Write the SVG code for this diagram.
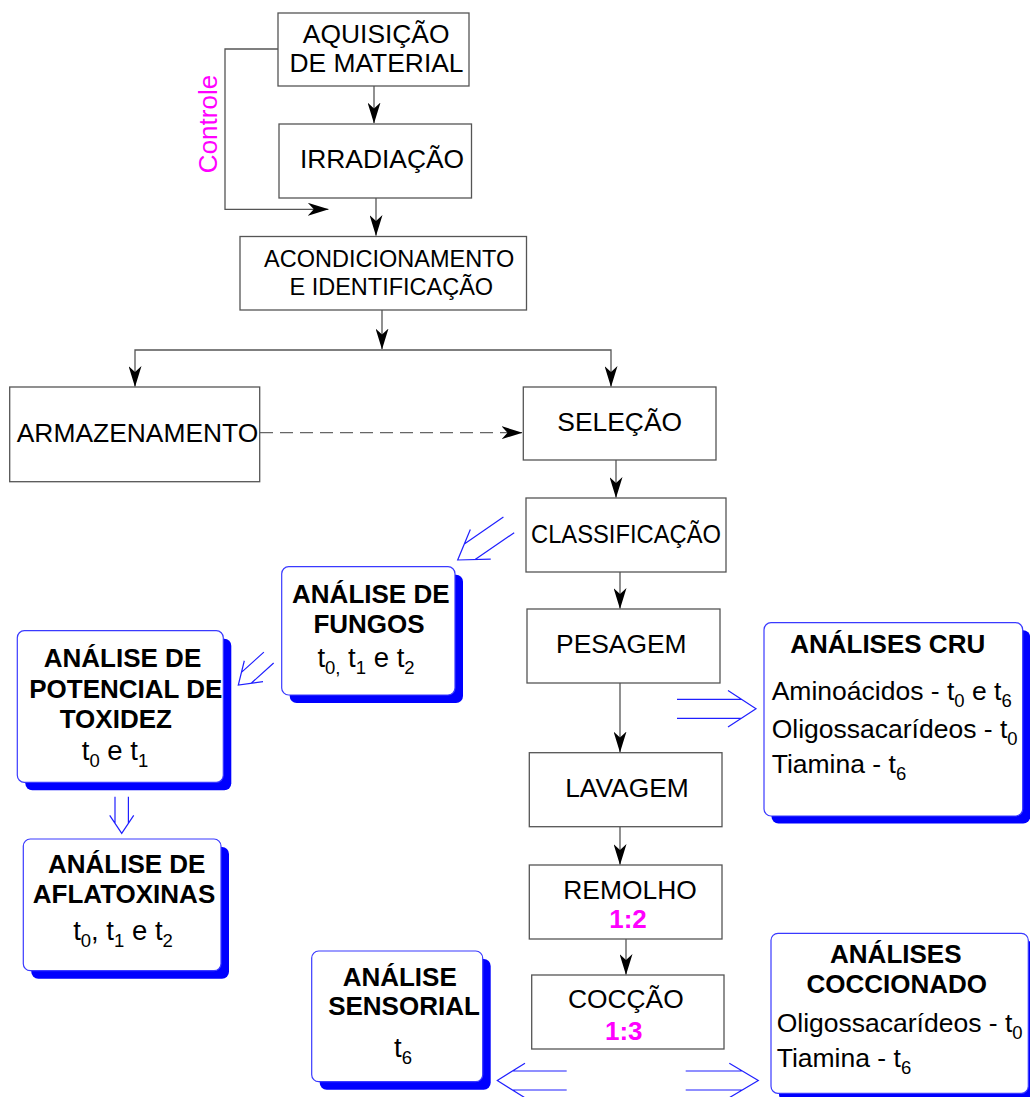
<svg xmlns="http://www.w3.org/2000/svg" width="1030" height="1097" viewBox="0 0 1030 1097">
<defs>
<style>
text{font-family:"Liberation Sans",Arial,sans-serif;fill:#000}
.t{font-size:26.4px;text-anchor:middle}
.ts{font-size:23.5px;text-anchor:middle}
.b{font-size:26px;font-weight:bold;text-anchor:middle}
.r{font-size:26.5px}
.rm{font-size:27.5px;text-anchor:middle}
.ctl{font-size:26px;text-anchor:middle;fill:#ff00ff}
.mag{font-size:26px;font-weight:bold;fill:#ff00ff;text-anchor:middle}
.sub{font-size:18.5px}
.box{fill:#fff;stroke:#555;stroke-width:1.3}
.abox{fill:#fff;stroke:#3a3aff;stroke-width:1.2}
.shadow{fill:#0000ff;stroke:none}
.con{fill:none;stroke:#555;stroke-width:1.3}
.dash{fill:none;stroke:#666;stroke-width:1.3;stroke-dasharray:13 7}
.dbl{fill:none;stroke:#2020ff;stroke-width:1.2}
</style>
<marker id="ah" markerUnits="userSpaceOnUse" markerWidth="21" markerHeight="13" viewBox="0 0 21 13" refX="20.5" refY="6.5" orient="auto">
<path d="M0,0 L21,6.5 L0,13 L6,6.5 Z" fill="#000"/>
</marker>
</defs>

<g id="connectors">
<path class="con" d="M374,86 V123" marker-end="url(#ah)"/>
<path class="con" d="M376,198 V235.5" marker-end="url(#ah)"/>
<path class="con" d="M278,49 H225 V209.3 H328.3" marker-end="url(#ah)"/>
<path class="con" d="M382,310 V349" marker-end="url(#ah)"/>
<path class="con" d="M382,350 H135 V386.5" marker-end="url(#ah)"/>
<path class="con" d="M382,350 H611 V386.5" marker-end="url(#ah)"/>
<path class="dash" d="M260,432.7 H522" marker-end="url(#ah)"/>
<path class="con" d="M616,460 V497.5" marker-end="url(#ah)"/>
<path class="con" d="M620,572 V608.5" marker-end="url(#ah)"/>
<path class="con" d="M620,683 V752" marker-end="url(#ah)"/>
<path class="con" d="M620,826.7 V864.5" marker-end="url(#ah)"/>
<path class="con" d="M626,939 V974.5" marker-end="url(#ah)"/>
<g class="dbl">
<g transform="translate(457.7,560) rotate(145.5)"><path d="M-27.7,-18 L0,0 L-27.7,18 M-62,-9.5 H-14.6 M-62,9.5 H-14.6"/></g>
<g transform="translate(238.3,685) rotate(138)"><path d="M-20.7,-14 L0,0 L-20.7,14 M-41,-7.3 H-10.8 M-41,7.3 H-10.8"/></g>
<g transform="translate(121.7,833.3) rotate(90)"><path d="M-18,-12 L0,0 L-18,12 M-36.6,-6.7 H-10 M-36.6,6.7 H-10"/></g>
<g transform="translate(756,708.8)"><path d="M-28,-18.3 L0,0 L-28,18.3 M-79,-9.5 H-14.6 M-79,9.5 H-14.6"/></g>
<g transform="translate(497.3,1080.5) rotate(180)"><path d="M-27.7,-17.3 L0,0 L-27.7,17.3 M-69.4,-9.5 H-15.2 M-69.4,9.5 H-15.2"/></g>
<g transform="translate(758.3,1080.5)"><path d="M-29,-17.2 L0,0 L-29,17.2 M-72.6,-9.5 H-16 M-72.6,9.5 H-16"/></g>
</g>
<text class="ctl" transform="translate(216.7,124) rotate(-90)">Controle</text>
</g>

<g id="aquisicao">
<rect class="box" x="278" y="13" width="191" height="73"/>
<text class="t" x="376.2" y="43.3">AQUISIÇÃO</text>
<text class="t" x="376.5" y="71.7">DE MATERIAL</text>
</g>
<g id="irradiacao">
<rect class="box" x="279" y="124" width="192.5" height="74"/>
<text class="t" x="382" y="168.3">IRRADIAÇÃO</text>
</g>
<g id="acondicionamento">
<rect class="box" x="240" y="236.5" width="286.5" height="73.5"/>
<text class="ts" x="389.2" y="266.7">ACONDICIONAMENTO</text>
<text class="ts" x="391.3" y="295">E IDENTIFICAÇÃO</text>
</g>
<g id="armazenamento">
<rect class="box" x="9.7" y="387" width="250" height="94.7"/>
<text class="t" x="137.5" y="441.7">ARMAZENAMENTO</text>
</g>
<g id="selecao">
<rect class="box" x="523.3" y="387" width="192.7" height="73"/>
<text class="t" x="619.7" y="431">SELEÇÃO</text>
</g>
<g id="classificacao">
<rect class="box" x="526" y="498" width="200" height="74"/>
<text class="t" x="626" y="542.7" textLength="190" lengthAdjust="spacingAndGlyphs">CLASSIFICAÇÃO</text>
</g>
<g id="pesagem">
<rect class="box" x="527" y="609" width="193" height="74"/>
<text class="t" x="621.3" y="652.7">PESAGEM</text>
</g>
<g id="lavagem">
<rect class="box" x="529.3" y="752.7" width="192.7" height="74"/>
<text class="t" x="627" y="796.7">LAVAGEM</text>
</g>
<g id="remolho">
<rect class="box" x="529.3" y="865" width="192.7" height="74"/>
<text class="t" x="630" y="899">REMOLHO</text>
<text class="mag" x="628" y="928.3">1:2</text>
</g>
<g id="coccao">
<rect class="box" x="531.7" y="975" width="192.3" height="74"/>
<text class="t" x="625.8" y="1008.3">COCÇÃO</text>
<text class="mag" x="623.8" y="1040">1:3</text>
</g>

<g id="analise-fungos">
<rect class="shadow" x="289.7" y="574.7" width="173.3" height="128.3" rx="7"/>
<rect class="abox" x="281.7" y="566.7" width="173.3" height="128.3" rx="7"/>
<text class="b" x="370.8" y="603.3">ANÁLISE DE</text>
<text class="b" x="369" y="633.3">FUNGOS</text>
<text class="rm" x="366" y="667">t<tspan class="sub" dy="7">0,</tspan><tspan dy="-7"> t</tspan><tspan class="sub" dy="7">1</tspan><tspan dy="-7"> e t</tspan><tspan class="sub" dy="7">2</tspan></text>
</g>
<g id="analise-potencial">
<rect class="shadow" x="25.3" y="638.7" width="206" height="151.6" rx="7"/>
<rect class="abox" x="17.3" y="630.7" width="206" height="151.6" rx="7"/>
<text class="b" x="122.5" y="667.3">ANÁLISE DE</text>
<text class="b" x="125.8" y="698.3">POTENCIAL DE</text>
<text class="b" x="115.8" y="728.3">TOXIDEZ</text>
<text class="rm" x="115" y="760">t<tspan class="sub" dy="7">0</tspan><tspan dy="-7"> e t</tspan><tspan class="sub" dy="7">1</tspan></text>
</g>
<g id="analise-aflatoxinas">
<rect class="shadow" x="31.3" y="847" width="197.7" height="131.7" rx="7"/>
<rect class="abox" x="23.3" y="839" width="197.7" height="131.7" rx="7"/>
<text class="b" x="126.7" y="873.3">ANÁLISE DE</text>
<text class="b" x="124" y="903.3">AFLATOXINAS</text>
<text class="rm" x="123" y="940">t<tspan class="sub" dy="7">0</tspan><tspan dy="-7">, t</tspan><tspan class="sub" dy="7">1</tspan><tspan dy="-7"> e t</tspan><tspan class="sub" dy="7">2</tspan></text>
</g>
<g id="analises-cru">
<rect class="shadow" x="771.5" y="630.2" width="258.7" height="193.3" rx="7"/>
<rect class="abox" x="764" y="622.7" width="258.7" height="193.3" rx="7"/>
<text class="b" x="887.7" y="653.3">ANÁLISES CRU</text>
<text class="r" x="771.7" y="700">Aminoácidos - t<tspan class="sub" dy="7">0</tspan><tspan dy="-7"> e t</tspan><tspan class="sub" dy="7">6</tspan></text>
<text class="r" x="771.7" y="738.3">Oligossacarídeos - t<tspan class="sub" dy="7">0</tspan></text>
<text class="r" x="771.7" y="773.3">Tiamina - t<tspan class="sub" dy="7">6</tspan></text>
</g>
<g id="analise-sensorial">
<rect class="shadow" x="319.7" y="959" width="171" height="130.7" rx="7"/>
<rect class="abox" x="311.7" y="951" width="171" height="130.7" rx="7"/>
<text class="b" x="399.7" y="985.7">ANÁLISE</text>
<text class="b" x="404" y="1015">SENSORIAL</text>
<text class="rm" x="403" y="1056.7">t<tspan class="sub" dy="7">6</tspan></text>
</g>
<g id="analises-coccionado">
<rect class="shadow" x="779" y="941.3" width="257.3" height="160" rx="7"/>
<rect class="abox" x="771" y="933.3" width="257.3" height="160" rx="7"/>
<text class="b" x="895.8" y="963.3">ANÁLISES</text>
<text class="b" x="896.7" y="992.7">COCCIONADO</text>
<text class="r" x="776.7" y="1031.7">Oligossacarídeos - t<tspan class="sub" dy="7">0</tspan></text>
<text class="r" x="776.7" y="1066.7">Tiamina - t<tspan class="sub" dy="7">6</tspan></text>
</g>
</svg>
